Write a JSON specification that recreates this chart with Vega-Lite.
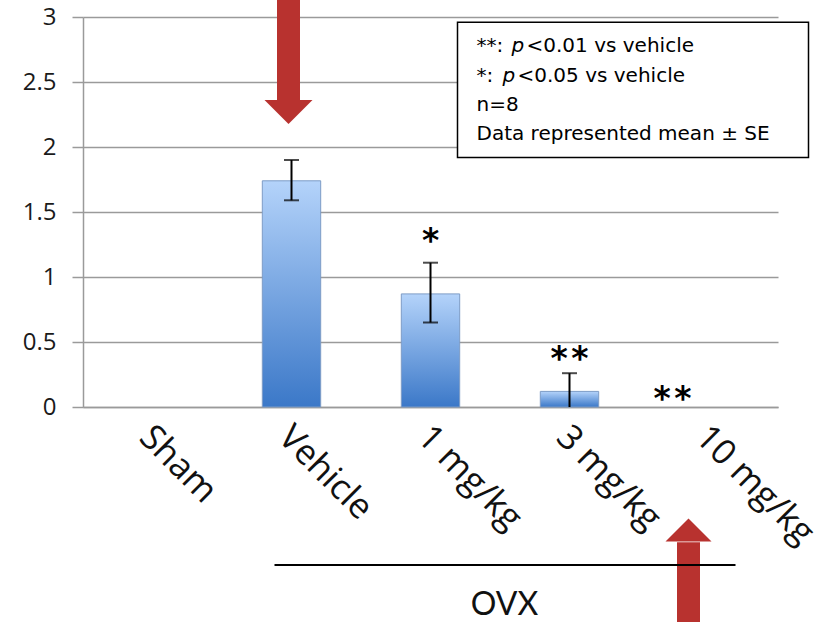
{
  "$schema": "https://vega.github.io/schema/vega-lite/v6.json",
  "width": 695,
  "height": 390,
  "autosize": {"type": "none"},
  "padding": {"left": 83, "top": 17, "right": 50, "bottom": 215},
  "background": "white",
  "config": {"view": {"stroke": null}, "font": "Lato"},
  "datasets": {
    "bars": [
      {"group": "Sham", "mean": 0},
      {"group": "Vehicle", "mean": 1.74, "lo": 1.59, "hi": 1.9},
      {"group": "1 mg/kg", "mean": 0.87, "lo": 0.65, "hi": 1.11},
      {"group": "3 mg/kg", "mean": 0.12, "lo": 0, "hi": 0.26},
      {"group": "10 mg/kg", "mean": 0}
    ],
    "sig": [
      {"group": "1 mg/kg", "y": 1.19, "t": "*"},
      {"group": "3 mg/kg", "y": 0.282, "t": "*\u200a*"}
    ],
    "sig2": [
      {"group": "10 mg/kg", "y": -0.02, "t": "*\u200a*"}
    ],
    "arrowTop": [{"group": "Vehicle", "y": 3.2, "y2": 2.35, "head": 2.27}],
    "arrowBottom": [{"group": "10 mg/kg", "y": -1.04, "y2": -1.8, "head": -0.946}],
    "ovx": [{"group": "Vehicle", "group2": "10 mg/kg", "y": -1.215}],
    "ovxText": [{"group": "3 mg/kg", "y": -1.52, "t": "OVX"}],
    "box": [{"group": "3 mg/kg", "group2": "10 mg/kg", "y": 2.96, "y2": 1.92}],
    "notesA": [
      {"group": "3 mg/kg", "y": 2.777, "t": "**:"},
      {"group": "3 mg/kg", "y": 2.546, "t": "*:"},
      {"group": "3 mg/kg", "y": 2.323, "t": "n=8"},
      {"group": "3 mg/kg", "y": 2.1, "t": "Data represented mean ± SE"}
    ],
    "p1": [{"group": "3 mg/kg", "y": 2.777, "t": "p"}],
    "p2": [{"group": "3 mg/kg", "y": 2.546, "t": "p"}],
    "r1": [{"group": "3 mg/kg", "y": 2.777, "t": "<0.01 vs vehicle"}],
    "r2": [{"group": "3 mg/kg", "y": 2.546, "t": "<0.05 vs vehicle"}]
  },
  "encoding": {
    "x": {
      "field": "group",
      "type": "nominal",
      "sort": ["Sham", "Vehicle", "1 mg/kg", "3 mg/kg", "10 mg/kg"],
      "scale": {"domain": ["Sham", "Vehicle", "1 mg/kg", "3 mg/kg", "10 mg/kg"], "paddingInner": 0.58, "paddingOuter": 0.29},
      "axis": {
        "title": null,
        "labelAngle": 45,
        "labelAlign": "left",
        "labelBaseline": "middle",
        "labelFont": "Open Sans",
        "labelFontSize": 35,
        "labelColor": "#111",
        "labelPadding": 24,
        "labelOffset": -7,
        "ticks": false,
        "domainColor": "#9a9a9a",
        "domainWidth": 1.5
      }
    }
  },
  "layer": [
    {
      "data": {"name": "bars"},
      "mark": {
        "type": "bar",
        "fill": {"gradient": "linear", "x1": 0, "y1": 0, "x2": 0, "y2": 1, "stops": [{"offset": 0, "color": "#b4d3fa"}, {"offset": 1, "color": "#3b78c8"}]},
        "stroke": "#7d9cc6",
        "strokeWidth": 1
      },
      "encoding": {
        "y": {
          "field": "mean",
          "type": "quantitative",
          "scale": {"domain": [0, 3], "nice": false},
          "axis": {
            "title": null,
            "values": [0, 0.5, 1, 1.5, 2, 2.5, 3],
            "format": "~g",
            "grid": true,
            "gridColor": "#9a9a9a",
            "gridWidth": 1.5,
            "tickColor": "#9a9a9a",
            "tickWidth": 1.5,
            "tickSize": 11,
            "domainColor": "#9a9a9a",
            "domainWidth": 1.5,
            "labelFont": "Open Sans",
            "labelFontSize": 24,
            "labelColor": "#1a1a1a",
            "labelPadding": 16
          }
        },
        "strokeOpacity": {"condition": {"test": "datum.mean <= 0", "value": 0}, "value": 1},
        "fillOpacity": {"condition": {"test": "datum.mean <= 0", "value": 0}, "value": 1}
      }
    },
    {
      "data": {"name": "bars"},
      "transform": [{"filter": "isValid(datum.hi)"}],
      "mark": {"type": "rule", "color": "black", "strokeWidth": 2},
      "encoding": {"y": {"field": "lo", "type": "quantitative"}, "y2": {"field": "hi"}}
    },
    {
      "data": {"name": "bars"},
      "transform": [{"filter": "isValid(datum.hi)"}],
      "mark": {"type": "tick", "color": "black", "size": 15, "thickness": 2, "orient": "horizontal"},
      "encoding": {"y": {"field": "hi", "type": "quantitative"}}
    },
    {
      "data": {"name": "bars"},
      "transform": [{"filter": "isValid(datum.lo) && datum.lo > 0"}],
      "mark": {"type": "tick", "color": "black", "size": 15, "thickness": 2, "orient": "horizontal"},
      "encoding": {"y": {"field": "lo", "type": "quantitative"}}
    },
    {
      "data": {"name": "sig"},
      "mark": {"type": "text", "font": "DejaVu Sans", "fontWeight": "bold", "fontSize": 33, "baseline": "alphabetic", "align": "center", "color": "black"},
      "encoding": {"y": {"field": "y", "type": "quantitative"}, "text": {"field": "t"}}
    },
    {
      "data": {"name": "sig2"},
      "mark": {"type": "text", "font": "DejaVu Sans", "fontWeight": "bold", "fontSize": 33, "baseline": "alphabetic", "align": "center", "color": "black", "dx": -36},
      "encoding": {"y": {"field": "y", "type": "quantitative"}, "text": {"field": "t"}}
    },
    {
      "data": {"name": "arrowTop"},
      "mark": {"type": "rule", "color": "#b8322f", "strokeWidth": 23, "xOffset": -3},
      "encoding": {"y": {"field": "y", "type": "quantitative"}, "y2": {"field": "y2"}}
    },
    {
      "data": {"name": "arrowTop"},
      "mark": {"type": "point", "shape": "M-1,-0.5L1,-0.5L0,0.5Z", "size": 2304, "filled": true, "color": "#b8322f", "opacity": 1, "xOffset": -3},
      "encoding": {"y": {"field": "head", "type": "quantitative"}}
    },
    {
      "data": {"name": "arrowBottom"},
      "mark": {"type": "rule", "color": "#b8322f", "strokeWidth": 23, "xOffset": -20},
      "encoding": {"y": {"field": "y", "type": "quantitative"}, "y2": {"field": "y2"}}
    },
    {
      "data": {"name": "arrowBottom"},
      "mark": {"type": "point", "shape": "M-1,0.5L1,0.5L0,-0.5Z", "size": 2116, "filled": true, "color": "#b8322f", "opacity": 1, "xOffset": -20},
      "encoding": {"y": {"field": "head", "type": "quantitative"}}
    },
    {
      "data": {"name": "ovx"},
      "mark": {"type": "rule", "color": "black", "strokeWidth": 2, "xOffset": -17, "x2Offset": 27},
      "encoding": {"x2": {"field": "group2"}, "y": {"field": "y", "type": "quantitative"}}
    },
    {
      "data": {"name": "ovxText"},
      "mark": {"type": "text", "fontSize": 32, "baseline": "middle", "align": "center", "dx": -65, "color": "#111"},
      "encoding": {"y": {"field": "y", "type": "quantitative"}, "text": {"field": "t"}}
    },
    {
      "data": {"name": "box"},
      "mark": {"type": "rect", "fill": "white", "stroke": "black", "strokeWidth": 1.5, "xOffset": -112, "x2Offset": 100},
      "encoding": {"x2": {"field": "group2"}, "y": {"field": "y", "type": "quantitative"}, "y2": {"field": "y2"}}
    },
    {
      "data": {"name": "notesA"},
      "mark": {"type": "text", "font": "DejaVu Sans", "fontSize": 20, "align": "left", "baseline": "middle", "dx": -93, "color": "black"},
      "encoding": {"y": {"field": "y", "type": "quantitative"}, "text": {"field": "t"}}
    },
    {
      "data": {"name": "p1"},
      "mark": {"type": "text", "font": "DejaVu Sans", "fontSize": 20, "fontStyle": "italic", "align": "left", "baseline": "middle", "dx": -58, "color": "black"},
      "encoding": {"y": {"field": "y", "type": "quantitative"}, "text": {"field": "t"}}
    },
    {
      "data": {"name": "p2"},
      "mark": {"type": "text", "font": "DejaVu Sans", "fontSize": 20, "fontStyle": "italic", "align": "left", "baseline": "middle", "dx": -67, "color": "black"},
      "encoding": {"y": {"field": "y", "type": "quantitative"}, "text": {"field": "t"}}
    },
    {
      "data": {"name": "r1"},
      "mark": {"type": "text", "font": "DejaVu Sans", "fontSize": 20, "align": "left", "baseline": "middle", "dx": -43, "color": "black"},
      "encoding": {"y": {"field": "y", "type": "quantitative"}, "text": {"field": "t"}}
    },
    {
      "data": {"name": "r2"},
      "mark": {"type": "text", "font": "DejaVu Sans", "fontSize": 20, "align": "left", "baseline": "middle", "dx": -52, "color": "black"},
      "encoding": {"y": {"field": "y", "type": "quantitative"}, "text": {"field": "t"}}
    }
  ]
}
